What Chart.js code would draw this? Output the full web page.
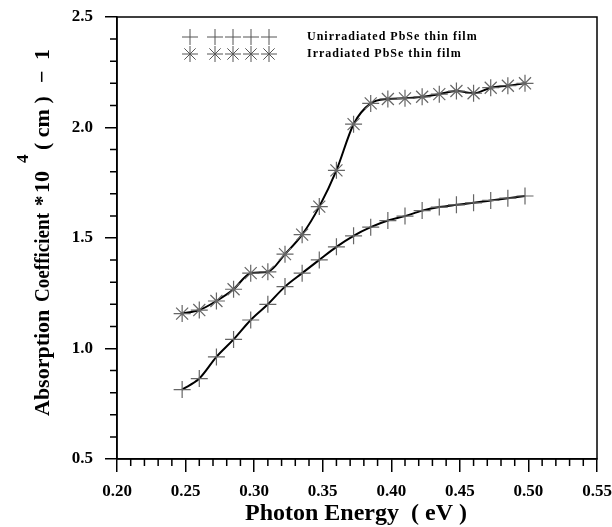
<!DOCTYPE html>
<html>
<head>
<meta charset="utf-8">
<script src="https://cdn.jsdelivr.net/npm/chart.js@4/dist/chart.umd.min.js"></script>
<style>
  html, body { margin: 0; padding: 0; background: #fff; }
  #wrap { width: 612px; height: 527px; }
</style>
</head>
<body>
<div id="wrap"><canvas id="c" width="612" height="527"></canvas></div>
<script>
// energie des photons (eV)
const energie = [0.2475, 0.26, 0.2725, 0.285, 0.2975, 0.31, 0.3225, 0.335, 0.3475, 0.36, 0.3725,
  0.385, 0.3975, 0.41, 0.4225, 0.435, 0.4475, 0.46, 0.4725, 0.485, 0.4975];
// coefficient d'absorption * 10^4
const nonIrradie = [0.814, 0.864, 0.962, 1.041, 1.129, 1.2, 1.28, 1.341, 1.401, 1.46, 1.51,
  1.549, 1.579, 1.599, 1.624, 1.64, 1.65, 1.659, 1.67, 1.68, 1.69];
const irradie = [1.158, 1.174, 1.215, 1.268, 1.341, 1.347, 1.427, 1.515, 1.642, 1.806, 2.015,
  2.109, 2.129, 2.132, 2.139, 2.151, 2.165, 2.155, 2.18, 2.189, 2.2];
const legendes = ['Unirradiated PbSe thin film', 'Irradiated PbSe thin film'];
const xTicks = [0.20, 0.25, 0.30, 0.35, 0.40, 0.45, 0.50, 0.55];
const yTicks = [0.5, 1.0, 1.5, 2.0, 2.5];

const serif = '"Liberation Serif", "Times New Roman", serif';

function points(ys) {
  return energie.map((x, i) => ({ x: x, y: ys[i] }));
}

// petites graduations + cadre + titres + legende
const decor = {
  id: 'decor',
  afterDraw(chart) {
    const ctx = chart.ctx;
    const a = chart.chartArea;
    const sx = chart.scales.x;
    const sy = chart.scales.y;
    ctx.save();
    ctx.strokeStyle = '#000';
    ctx.lineWidth = 1.5;
    ctx.strokeRect(a.left, a.top, a.right - a.left, a.bottom - a.top);
    ctx.beginPath();
    for (let v = 0.21; v < 0.55; v += 0.01) {
      if (Math.abs(v * 20 - Math.round(v * 20)) < 1e-6) continue;
      const px = sx.getPixelForValue(v);
      ctx.moveTo(px, a.bottom);
      ctx.lineTo(px, a.bottom + 7);
    }
    for (let v = 0.6; v < 2.5; v += 0.1) {
      if (Math.abs(v * 2 - Math.round(v * 2)) < 1e-6) continue;
      const py = sy.getPixelForValue(v);
      ctx.moveTo(a.left, py);
      ctx.lineTo(a.left - 7, py);
    }
    ctx.stroke();

    // titre axe x
    ctx.fillStyle = '#000';
    ctx.font = 'bold 24px ' + serif;
    ctx.textAlign = 'center';
    ctx.textBaseline = 'alphabetic';
    ctx.fillText('Photon Energy  ( eV )', 356, 520);

    // titre axe y (avec exposant), morceaux places le long de l'axe
    ctx.translate(49, 416);
    ctx.rotate(-Math.PI / 2);
    ctx.textAlign = 'left';
    // [texte, position, decalage, taille, largeur voulue]
    const morceaux = [
      ['Absorption', 0, 0, 22, 107],
      ['Coefficient', 114, 0, 22, 89],
      ['*', 210, 0, 21, 0],
      ['10', 223, 0, 22, 0],
      ['4', 253, -21, 17, 0],
      ['( cm )', 266, 0, 22, 58],
      ['\u2212', 333, 0, 22, 0],
      ['1', 356, 0, 22, 0]
    ];
    morceaux.forEach(m => {
      ctx.font = 'bold ' + m[3] + 'px ' + serif;
      if (m[4]) {
        ctx.fillText(m[0], m[1], m[2], m[4]);
      } else {
        ctx.fillText(m[0], m[1], m[2]);
      }
    });
    ctx.restore();

    // legende
    ctx.save();
    const styles = ['cross', 'star'];
    const lignes = [37, 54];
    const xs = [190, 215, 233, 251, 269];
    ctx.strokeStyle = '#555';
    lignes.forEach((ly, k) => {
      xs.forEach(lx => {
        Chart.helpers.drawPoint(ctx, { pointStyle: styles[k], radius: 8, borderWidth: 1.2 }, lx, ly);
      });
    });
    ctx.restore();
    ctx.save();
    ctx.fillStyle = '#000';
    ctx.font = 'bold 12px ' + serif;
    ctx.letterSpacing = '1px';
    ctx.textBaseline = 'middle';
    lignes.forEach((ly, k) => ctx.fillText(legendes[k], 307, ly));
    ctx.restore();
  }
};

new Chart(document.getElementById('c'), {
  type: 'line',
  data: {
    datasets: [
      {
        label: legendes[0],
        data: points(nonIrradie),
        borderColor: '#000',
        borderWidth: 2,
        pointStyle: 'cross',
        pointRadius: 8.5,
        pointBorderColor: '#666',
        pointBorderWidth: 1.2,
        pointBackgroundColor: 'transparent',
        cubicInterpolationMode: 'monotone',
        fill: false
      },
      {
        label: legendes[1],
        data: points(irradie),
        borderColor: '#000',
        borderWidth: 2,
        pointStyle: 'star',
        pointRadius: 8.5,
        pointBorderColor: '#666',
        pointBorderWidth: 1.2,
        pointBackgroundColor: 'transparent',
        cubicInterpolationMode: 'monotone',
        fill: false
      }
    ]
  },
  options: {
    responsive: false,
    animation: false,
    layout: { padding: { top: 17, right: 15, left: 0, bottom: 0 } },
    plugins: { legend: { display: false }, tooltip: { enabled: false } },
    scales: {
      x: {
        type: 'linear',
        min: 0.2,
        max: 0.55,
        afterBuildTicks: s => { s.ticks = xTicks.map(v => ({ value: v })); },
        afterFit: s => {
          s.height = 68;
          s.paddingLeft = 0;
          s.paddingRight = 0;
        },
        border: { display: true, color: '#000', width: 1.5 },
        grid: { drawOnChartArea: false, drawTicks: true, tickLength: 13, color: '#000', lineWidth: 1.5 },
        ticks: {
          color: '#000',
          font: { family: serif, size: 17, weight: 'bold' },
          padding: 9,
          maxRotation: 0,
          callback: v => v.toFixed(2)
        }
      },
      y: {
        type: 'linear',
        min: 0.5,
        max: 2.5,
        afterBuildTicks: s => { s.ticks = yTicks.map(v => ({ value: v })); },
        afterFit: s => {
          s.width = 117;
          s.paddingTop = 0;
          s.paddingBottom = 0;
        },
        border: { display: true, color: '#000', width: 1.5 },
        grid: { drawOnChartArea: false, drawTicks: true, tickLength: 12, color: '#000', lineWidth: 1.5 },
        ticks: {
          color: '#000',
          font: { family: serif, size: 17, weight: 'bold' },
          padding: 12,
          callback: v => v.toFixed(1)
        }
      }
    }
  },
  plugins: [decor]
});
</script>
</body>
</html>
